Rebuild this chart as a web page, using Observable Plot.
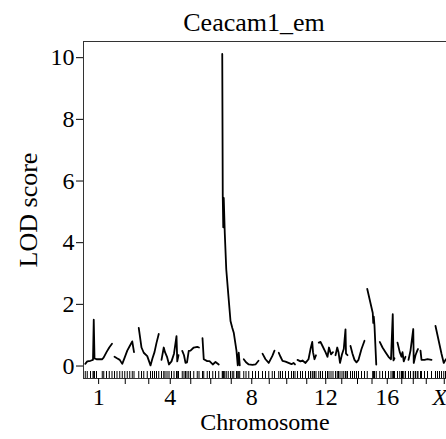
<!DOCTYPE html>
<html><head><meta charset="utf-8">
<script src="https://cdn.jsdelivr.net/npm/d3@7"></script>
<script src="https://cdn.jsdelivr.net/npm/@observablehq/plot@0.6"></script>
<style>body{margin:0;background:#fff;} svg{display:block} svg, svg text{font-family:"Liberation Serif", serif !important;}</style>
</head><body><div id="chart"></div>
<script>
const title = "Ceacam1_em";
const xLabel = "Chromosome";
const yLabel = "LOD score";
const chromosomes = ["1","2","3","4","5","6","7","8","9","10","11","12","13","14","15","16","17","18","19","X"];
const chrLengths = [107,86,82,70,74,66,78,66,54,66,74,58,50,56,40,62,34,38,46,78];
const chrGap = 10;
const shownTickLabels = ["1","4","8","12","16","X"];
const yTicks = [0,2,4,6,8,10];

// positions (cM within chromosome) and LOD scores
const c1Pos = [0,8,21,31,34,37,45,68,74,85,96,107];
const c1Lod = [0.07,0.15,0.17,0.2,1.5,0.25,0.22,0.22,0.28,0.45,0.6,0.72];
const c2Pos = [0,10,21,31,41,51,61,71,78];
const c2Lod = [0.3,0.25,0.2,0.07,0.28,0.5,0.65,0.8,0.45];
const c3Pos = [1,12,21,35,48,56,64,72,81];
const c3Lod = [1.24,0.6,0.43,0.32,0.02,0.25,0.45,0.75,1.04];
const c4Pos = [0,9,14,22,30,40,50,60,63,68];
const c4Lod = [0.2,0.6,0.45,0.3,0.05,0.15,0.4,0.97,0.15,0.35];
const c5Pos = [3,10,16,22,29,36,49,63,70];
const c5Lod = [0.49,0.35,0.1,0.12,0.49,0.5,0.6,0.62,0.6];
const c6Pos = [0,5,19,28,41,52,65];
const c6Lod = [0.9,0.22,0.16,0.16,0.05,0.13,0.05];
const c7Pos = [3,5,7,9,13,19,27,36,43,49,60,65,69,73];
const c7Lod = [10.12,5.52,4.5,5.45,4.33,3.14,2.34,1.46,1.24,1.08,0.49,0.02,0.43,0.02];
const c8Pos = [1,10,21,36,48,60];
const c8Lod = [0.22,0.12,0.05,0.04,0.05,0.17];
const c9Pos = [0,12,25,39,48];
const c9Lod = [0.4,0.22,0.1,0.32,0.5];
const c10Pos = [1,8,16,28,40,52,60,66];
const c10Lod = [0.43,0.3,0.17,0.14,0.1,0.06,0.1,0.05];
const c11Pos = [0,12,20,32,44,52,59,62,68,74];
const c11Lod = [0.2,0.15,0.18,0.1,0.22,0.55,0.78,0.45,0.22,0.35];
const c12Pos = [1,8,16,28,36,42,50,58];
const c12Lod = [0.76,0.78,0.65,0.45,0.3,0.6,0.38,0.45];
const c13Pos = [0,7,12,18,26,33,40,42,48];
const c13Lod = [0.35,0.6,0.45,0.1,0.38,0.55,1.19,0.4,0.35];
const c14Pos = [0,8,16,24,32,44,56];
const c14Lod = [0.65,0.4,0.2,0.12,0.2,0.55,0.82];
const c15Pos = [1,23,25,27,30,37];
const c15Lod = [2.5,1.72,1.4,1.6,1.3,0.05];
const c16Pos = [1,12,24,36,46,53,56,60];
const c16Lod = [0.78,0.6,0.45,0.3,0.22,1.68,0.18,0.25];
const c17Pos = [0,9,16,20,25,32];
const c17Lod = [0.76,0.45,0.3,0.45,0.15,0.3];
const c18Pos = [0,8,19,21,28,35,38];
const c18Lod = [0.2,0.5,1.2,0.1,0.35,0.5,0.55];
const c19Pos = [0,4,16,28,44];
const c19Lod = [0.5,0.2,0.2,0.22,0.2];
const cXPos = [4,12,20,28,37,44,56,72];
const cXLod = [1.3,1.0,0.7,0.4,0.1,0.2,0.3,0.2];

const chrPos = [c1Pos,c2Pos,c3Pos,c4Pos,c5Pos,c6Pos,c7Pos,c8Pos,c9Pos,c10Pos,c11Pos,c12Pos,c13Pos,c14Pos,c15Pos,c16Pos,c17Pos,c18Pos,c19Pos,cXPos];
const chrLod = [c1Lod,c2Lod,c3Lod,c4Lod,c5Lod,c6Lod,c7Lod,c8Lod,c9Lod,c10Lod,c11Lod,c12Lod,c13Lod,c14Lod,c15Lod,c16Lod,c17Lod,c18Lod,c19Lod,cXLod];

const starts = [];
let off = 0;
chrLengths.forEach(L => { starts.push(off); off += L + chrGap; });
const rows = [];
chromosomes.forEach((c, i) => chrPos[i].forEach((p, j) => rows.push({chr: c, x: starts[i] + p, lod: chrLod[i][j]})));
const centers = chromosomes.map((c, i) => ({chr: c, x: starts[i] + chrLengths[i] / 2}));

const yMax = d3.max(rows, d => d.lod);
const yDomain = [-0.04 * yMax, yMax * 1.04];
const xDomain = [-7, 1445];
const W = 446, H = 439, mT = 41, mB = 61, mL = 83;
const frameH = H - mT - mB;
const font = "Liberation Serif";

const plot = Plot.plot({
  width: W, height: H,
  marginTop: mT, marginBottom: mB, marginLeft: mL, marginRight: 0,
  style: {fontFamily: font, fontSize: "24px", color: "#000", background: "#fff"},
  x: {domain: xDomain},
  y: {domain: yDomain},
  marks: [
    Plot.ruleY([yDomain[0], yDomain[1]], {stroke: "#333", strokeWidth: 1}),
    Plot.ruleX([xDomain[0]], {stroke: "#333", strokeWidth: 1}),
    Plot.axisY({ticks: yTicks, tickSize: 7, tickPadding: 2, label: null, fontSize: 24, fontFamily: font}),
    Plot.axisX({ticks: centers.map(d => d.x), tickSize: 6, text: null, label: null}),
    Plot.tickX(rows, {x: "x", insetTop: frameH - 7, stroke: "#000", strokeWidth: 1, clip: true}),
    Plot.line(rows, {x: "x", y: "lod", z: "chr", stroke: "#000", strokeWidth: 1.8, clip: true}),
    Plot.text(centers.filter(d => shownTickLabels.includes(d.chr) && d.chr !== "X"), {x: "x", text: "chr", frameAnchor: "bottom", lineAnchor: "middle", dy: 19, fontSize: 24, fontFamily: font}),
    Plot.text(centers.filter(d => d.chr === "X"), {x: "x", text: "chr", frameAnchor: "bottom", lineAnchor: "middle", textAnchor: "end", dx: 3, dy: 19, fontSize: 24, fontStyle: "italic", fontFamily: font}),
    Plot.text([xLabel], {text: d => d, frameAnchor: "bottom", lineAnchor: "middle", dy: 44, fontSize: 24, fontFamily: font}),
    Plot.text([yLabel], {text: d => d, frameAnchor: "left", textAnchor: "middle", lineAnchor: "middle", dx: -55, rotate: -90, fontSize: 26, fontFamily: font}),
    Plot.text([title], {text: d => d, frameAnchor: "top", lineAnchor: "middle", dx: -11, dy: -19, fontSize: 26, fontFamily: font})
  ]
});
document.getElementById("chart").appendChild(plot);
</script>
</body></html>
